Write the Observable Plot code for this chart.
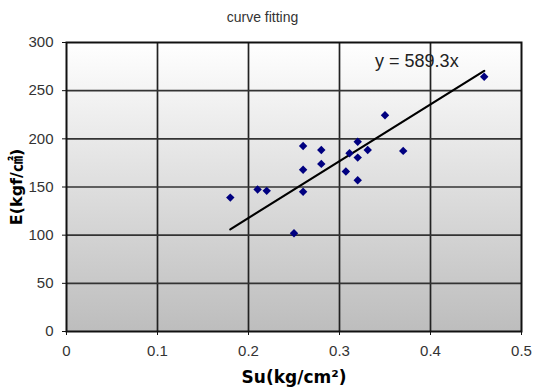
<!DOCTYPE html>
<html>
<head>
<meta charset="utf-8">
<script src="https://cdn.jsdelivr.net/npm/d3@7"></script>
<script src="https://cdn.jsdelivr.net/npm/@observablehq/plot@0.6"></script>
<style>
  body { margin: 0; background: #fff; }
  #title { height: 32px; width: 525px; box-sizing: border-box; text-align: center;
           font: 14px "Liberation Sans", Arial, sans-serif; color: #333; line-height: 34px; }
</style>
</head>
<body>
<div id="title">curve fitting</div>
<div id="chart"></div>
<script>
const su = [0.18, 0.21, 0.22, 0.26, 0.26, 0.26, 0.25, 0.28, 0.28, 0.307, 0.311, 0.32, 0.32, 0.32, 0.331, 0.35, 0.37, 0.459];
const E  = [139, 147.5, 146, 192.5, 168, 145, 102, 188.5, 174, 166, 185, 197, 180.5, 157, 188.5, 224.5, 187.5, 264.5];
const slope = 589.3;
const xTicks = [0, 0.1, 0.2, 0.3, 0.4, 0.5];
const yTicks = [0, 50, 100, 150, 200, 250, 300];
const equation = "y = 589.3x";
const xLabel = "Su(kg/cm\u00B2)";
const yLabel = "E(kgf/\u33A0)";

const points = su.map((x, i) => ({x, y: E[i]}));
const xr = d3.extent(su);
const fit = xr.map(x => ({x, y: slope * x}));
const labelFont = "'DejaVu Sans', 'Noto Sans CJK KR', sans-serif";

const plot = Plot.plot({
  width: 533,
  height: 356,
  marginTop: 10,
  marginBottom: 57,
  marginLeft: 66,
  marginRight: 12,
  style: {fontFamily: "'Liberation Sans', Arial, sans-serif", fontSize: "15px", color: "#333", background: "transparent"},
  x: {domain: [0, 0.5]},
  y: {domain: [0, 300]},
  marks: [
    Plot.frame({fill: "url(#bg)", stroke: null}),
    Plot.ruleX(xTicks.slice(1, -1), {stroke: "#222", strokeWidth: 1.7}),
    Plot.ruleY(yTicks.slice(1, -1), {stroke: "#333", strokeWidth: 1.6}),
    Plot.frame({stroke: "#111", strokeWidth: 2}),
    Plot.axisX({ticks: xTicks, tickSize: 4, tickPadding: 10, tickFormat: d => String(d), label: null, stroke: "#111", fill: "#333", fontSize: 15}),
    Plot.axisY({ticks: yTicks, tickSize: 4, tickPadding: 9, label: null, stroke: "#111", fill: "#333", fontSize: 15}),
    Plot.axisY({ticks: [], tickSize: 0, label: yLabel, labelAnchor: "center", labelArrow: "none", labelOffset: 56, fontSize: 16, fontWeight: "bold", fill: "#000", fontFamily: labelFont}),
    Plot.axisX({ticks: [], tickSize: 0, label: xLabel, labelAnchor: "center", labelArrow: "none", labelOffset: 51, fontSize: 17, fontWeight: "bold", fill: "#000", fontFamily: labelFont}),
    Plot.line(fit, {x: "x", y: "y", stroke: "#000", strokeWidth: 2.2}),
    Plot.dot(points, {x: "x", y: "y", symbol: "diamond2", r: 3.8, fill: "#000080", stroke: "none"}),
    Plot.text([equation], {x: 0.385, y: 281, fontSize: 18, fill: "#222", fontFamily: "'Liberation Sans', Arial, sans-serif"})
  ]
});

const ns = "http://www.w3.org/2000/svg";
const defs = document.createElementNS(ns, "defs");
defs.innerHTML = '<linearGradient id="bg" x1="0" y1="0" x2="0" y2="1"><stop offset="0" stop-color="#ffffff"/><stop offset="1" stop-color="#bdbdbd"/></linearGradient>';
plot.insertBefore(defs, plot.firstChild);
document.getElementById("chart").appendChild(plot);
</script>
</body>
</html>
